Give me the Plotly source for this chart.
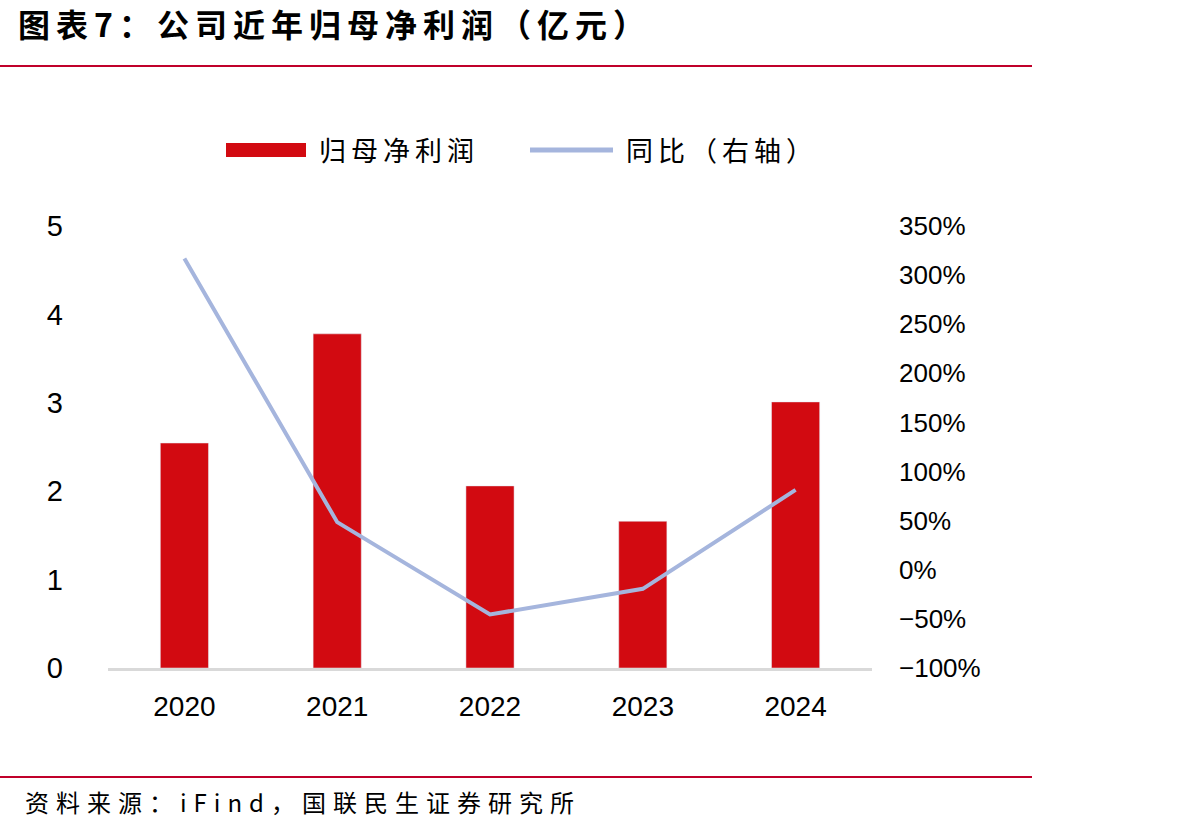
import plotly.graph_objects as go

years = ["2020", "2021", "2022", "2023", "2024"]
profit = [2.545, 3.78, 2.06, 1.66, 3.01]
yoy = [317, 48.5, -45.5, -19.4, 81.3]
left_ticks = [0, 1, 2, 3, 4, 5]
right_ticks = [-100, -50, 0, 50, 100, 150, 200, 250, 300, 350]
right_labels = ["−100%", "−50%", "0%", "50%", "100%", "150%", "200%", "250%", "300%", "350%"]

W, H = 1187, 830
L, R, T, B = 108, 872, 226, 668
pw, ph = R - L, B - T

def px(x):
    return (x - L) / pw

def py(y):
    return (B - y) / ph

BAR = "#D20A11"
LINE = "#A5B5DD"
CJK = "Noto Sans CJK SC"
NUM = "Liberation Sans, Arial, sans-serif"

def spaced(s, sp):
    return '<span style="letter-spacing:%dpx">%s</span>' % (sp, s)

fig = go.Figure()
fig.add_trace(go.Bar(x=years, y=profit, marker_color=BAR, width=0.315, name="归母净利润", yaxis="y"))
fig.add_trace(go.Scatter(x=years, y=yoy, mode="lines", line=dict(color=LINE, width=4), name="同比（右轴）", yaxis="y2"))

fig.update_layout(
    width=W, height=H,
    margin=dict(l=L, r=W - R, t=T, b=H - B),
    paper_bgcolor="white", plot_bgcolor="white",
    showlegend=False,
    xaxis=dict(showline=True, linecolor="#D9D9D9", linewidth=3, ticks="", showgrid=False,
               tickfont=dict(family=NUM, size=28, color="black"),
               ticklabelstandoff=11),
    yaxis=dict(range=[0, 5], tickvals=left_ticks, showgrid=False, zeroline=False, showline=False, ticks="",
               tickfont=dict(family=NUM, size=29, color="black"), ticklabelstandoff=44),
    yaxis2=dict(range=[-100, 350], tickvals=right_ticks, ticktext=right_labels, overlaying="y", side="right",
                showgrid=False, zeroline=False, showline=False, ticks="",
                tickfont=dict(family=NUM, size=26, color="black"), ticklabelstandoff=26),
)

shapes = []
shapes.append(dict(type="line", xref="paper", yref="paper", x0=px(0), x1=px(1032), y0=py(66), y1=py(66),
                   line=dict(color="#C0002A", width=2)))
shapes.append(dict(type="line", xref="paper", yref="paper", x0=px(0), x1=px(1032), y0=py(777), y1=py(777),
                   line=dict(color="#C0002A", width=2)))
shapes.append(dict(type="rect", xref="paper", yref="paper", x0=px(226), x1=px(306), y0=py(157), y1=py(143),
                   fillcolor=BAR, line=dict(width=0)))
shapes.append(dict(type="line", xref="paper", yref="paper", x0=px(530), x1=px(613), y0=py(150), y1=py(150),
                   line=dict(color=LINE, width=5)))
fig.update_layout(shapes=shapes)

ann = []
ann.append(dict(text="<b>" + spaced("图表7：公司近年归母净利润（亿元）", 6) + "</b>", xref="paper", yref="paper",
                x=px(16), y=py(23), xanchor="left", yanchor="middle", showarrow=False,
                font=dict(family=CJK, size=32, color="black")))
ann.append(dict(text=spaced("归母净利润", 5), xref="paper", yref="paper", x=px(317), y=py(150),
                xanchor="left", yanchor="middle", showarrow=False, font=dict(family=CJK, size=27, color="black")))
ann.append(dict(text=spaced("同比（右轴）", 5), xref="paper", yref="paper", x=px(624), y=py(150),
                xanchor="left", yanchor="middle", showarrow=False, font=dict(family=CJK, size=27, color="black")))
ann.append(dict(text=spaced("资料来源：iFind，国联民生证券研究所", 7), xref="paper", yref="paper", x=px(23), y=py(801),
                xanchor="left", yanchor="middle", showarrow=False, font=dict(family=CJK, size=24, color="black")))
fig.update_layout(annotations=ann)

fig.write_html("out.html")
